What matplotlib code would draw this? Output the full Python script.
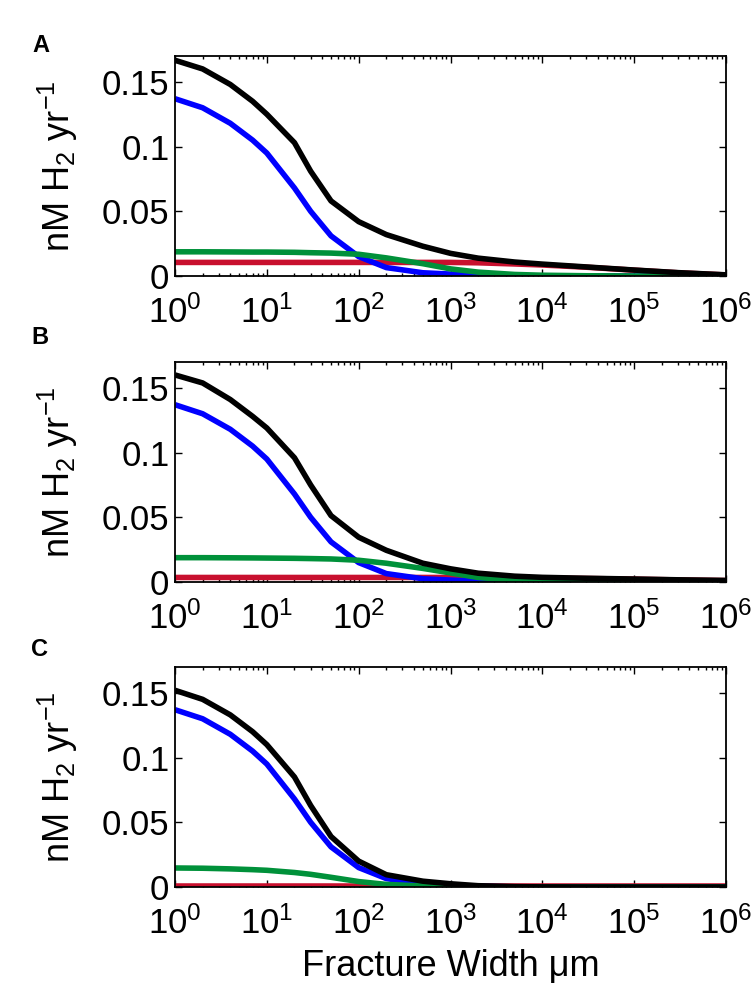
import matplotlib
matplotlib.use("Agg")
import matplotlib.pyplot as plt
from matplotlib.ticker import LogLocator, NullFormatter, FixedLocator

plt.rcParams['font.family'] = ['Liberation Sans', 'DejaVu Sans']
plt.rcParams['mathtext.fontset'] = 'custom'
plt.rcParams['mathtext.rm'] = 'Liberation Sans'
plt.rcParams['mathtext.it'] = 'Liberation Sans:italic'
plt.rcParams['mathtext.bf'] = 'Liberation Sans:bold'

# ---- data ----
width_um = [1, 2, 4, 7, 10, 20, 30, 50, 100, 200, 500, 1e3, 2e3, 5e3, 1e4, 3e4, 1e5, 3e5, 1e6]

blue = [0.137, 0.130, 0.118, 0.105, 0.095, 0.068, 0.050, 0.031, 0.015, 0.0065, 0.0025,
        0.0015, 0.0005, 0.0001, 0.0, 0.0, 0.0, 0.0, 0.0]

green_A = [0.0187, 0.0187, 0.0186, 0.0185, 0.0185, 0.0183, 0.0180, 0.0177, 0.0168, 0.0140,
           0.0095, 0.0055, 0.0030, 0.0012, 0.0006, 0.0002, 0.0, 0.0, 0.0]
red_A = [0.0105, 0.0105, 0.0105, 0.0105, 0.0105, 0.0105, 0.0105, 0.0105, 0.0105, 0.0105,
         0.0105, 0.0105, 0.0102, 0.0093, 0.0085, 0.0068, 0.0045, 0.0025, 0.0008]
black_A = [0.1667, 0.160, 0.148, 0.135, 0.125, 0.103, 0.081, 0.058, 0.042, 0.032, 0.023,
           0.0175, 0.0138, 0.0108, 0.0092, 0.0070, 0.0046, 0.0026, 0.0009]

green_B = [0.0188, 0.0188, 0.0187, 0.0186, 0.0185, 0.0183, 0.0181, 0.0178, 0.0168, 0.0145,
           0.0105, 0.0070, 0.0035, 0.0012, 0.0005, 0.0001, 0.0, 0.0, 0.0]
red_B = [0.0035, 0.0035, 0.0035, 0.0035, 0.0035, 0.0035, 0.0035, 0.0035, 0.0035, 0.0035,
         0.0035, 0.0035, 0.0034, 0.0032, 0.0030, 0.0027, 0.0022, 0.0016, 0.0011]
black_B = [0.160, 0.1538, 0.141, 0.128, 0.119, 0.096, 0.075, 0.0513, 0.0346, 0.0245, 0.0145,
           0.0102, 0.0068, 0.0045, 0.0036, 0.0029, 0.0023, 0.0017, 0.0012]

green_C = [0.0147, 0.0145, 0.0140, 0.0134, 0.0129, 0.0112, 0.0098, 0.0075, 0.0042, 0.0020,
           0.0008, 0.0003, 0.0001, 0.0, 0.0, 0.0, 0.0, 0.0, 0.0]
red_C = [0.0004] * 19
black_C = [0.152, 0.145, 0.133, 0.120, 0.110, 0.085, 0.063, 0.039, 0.020, 0.0095, 0.0045,
           0.0025, 0.0010, 0.0003, 0.0001, 0.0, 0.0, 0.0, 0.0]

panels = ['A', 'B', 'C']
series = {
    'A': (red_A, blue, green_A, black_A),
    'B': (red_B, blue, green_B, black_B),
    'C': (red_C, blue, green_C, black_C),
}
y_ticks = [0, 0.05, 0.1, 0.15]
y_ticklabels = ['0', '0.05', '0.1', '0.15']
x_ticks = [1, 10, 100, 1e3, 1e4, 1e5, 1e6]

colors = ['#C8102E', '#0000FF', '#00913A', '#000000']

W, H = 754, 993
fig = plt.figure(figsize=(W / 100, H / 100), dpi=100)

axes_px = [(56, 276), (362, 582), (667, 887)]
label_px = [(41, 46), (40, 338), (40, 649)]
left, right = 175, 726

for p, (top, bot), (lx, ly) in zip(panels, axes_px, label_px):
    ax = fig.add_axes([left / W, 1 - bot / H, (right - left) / W, (bot - top) / H])
    for vals, c in zip(series[p], colors):
        ax.plot(width_um, vals, color=c, lw=4.0, solid_capstyle='butt',
                solid_joinstyle='round')
    ax.set_xscale('log')
    ax.set_xlim(1, 1e6)
    ax.set_ylim(0, 0.17)
    ax.xaxis.set_major_locator(FixedLocator(x_ticks))
    ax.xaxis.set_minor_locator(LogLocator(base=10, subs=range(2, 10), numticks=20))
    ax.xaxis.set_minor_formatter(NullFormatter())
    ax.set_yticks(y_ticks)
    ax.set_yticklabels(y_ticklabels)
    ax.tick_params(which='both', direction='in', top=True, right=True, width=1.0)
    ax.tick_params(which='major', length=5, labelsize=25)
    ax.tick_params(which='minor', length=2.5)
    ax.tick_params(axis='y', pad=4)
    ax.tick_params(axis='x', pad=14)
    for s in ax.spines.values():
        s.set_linewidth(1.3)
    ax.set_ylabel(r'nM H$_2$ yr$^{-1}$', fontsize=26)
    ax.yaxis.set_label_coords(-0.172, 0.5)
    fig.text(lx / W, 1 - ly / H, p, fontsize=17, fontweight='bold',
             ha='center', va='center')
    if p == 'C':
        ax.set_xlabel('Fracture Width μm', fontsize=26)
        ax.xaxis.set_label_coords(0.5, -0.28)

fig.savefig('out.png', dpi=100)
